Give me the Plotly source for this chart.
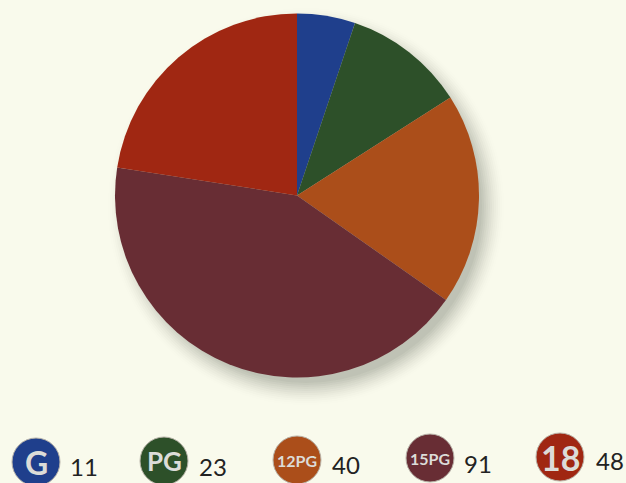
import plotly.graph_objects as go

categories = ["G", "PG", "12PG", "15PG", "18"]
values = [11, 23, 40, 91, 48]
colors = ["#1f3f8c", "#2d5029", "#ab4e1a", "#682d34", "#a02712"]

W, H = 626, 483
BG = "#f9faec"
# Legend layout, in pixels of the picture
badge_cx = [36, 164, 297, 430, 560]
badge_cy = [462, 461, 460, 458, 457]
label_cx = [84, 213, 346, 478, 610]
label_cy = [466, 466, 464, 463, 460]
badge_font = [32, 26, 16, 16, 34]
badge_text = ["<b>G</b>", "<b>PG</b>", "<b>12PG</b>", "<b>15PG</b>", "<b>18</b>"]


def px(x):
    return x / W


def py(y):
    return 1 - y / H


shapes = []
# soft drop shadow of the pie: stacked translucent discs
for grow in range(16, -8, -2):
    op = 0.008 + 0.002 * (16 - grow)
    shapes.append(dict(type="circle", xref="paper", yref="paper", layer="below",
                       x0=px(115 + 9 - grow), x1=px(479 + 9 + grow),
                       y0=py(378 + 11 + grow), y1=py(13 + 11 - grow),
                       fillcolor=f"rgba(70,75,70,{op:.4f})", line=dict(width=0)))

annotations = []
for t, v, col, bx, by, lx, ly, fs in zip(badge_text, values, colors, badge_cx, badge_cy,
                                         label_cx, label_cy, badge_font):
    shapes.append(dict(type="circle", xref="paper", yref="paper",
                       x0=px(bx - 24), x1=px(bx + 24), y0=py(by + 24), y1=py(by - 24),
                       fillcolor=col, line=dict(width=1, color="#b9b4aa")))
    annotations.append(dict(x=px(bx), y=py(by), xref="paper", yref="paper", text=t, showarrow=False,
                            xanchor="center", yanchor="middle",
                            font=dict(family="Lato", size=fs, color="#dcdcd8")))
    annotations.append(dict(x=px(lx), y=py(ly), xref="paper", yref="paper", text=str(v), showarrow=False,
                            xanchor="center", yanchor="middle",
                            font=dict(family="Lato", size=24, color="#222222")))

fig = go.Figure()
fig.add_trace(go.Pie(labels=categories, values=values, sort=False, direction="clockwise",
                     rotation=0, textinfo="none", hoverinfo="label+value", showlegend=False,
                     marker=dict(colors=colors, line=dict(width=0)),
                     domain=dict(x=[px(115), px(479)], y=[py(378), py(13)])))

fig.update_layout(width=W, height=H, margin=dict(l=0, r=0, t=0, b=0),
                  paper_bgcolor=BG, plot_bgcolor=BG, shapes=shapes, annotations=annotations)
fig.write_html("out.html", config=dict(displayModeBar=False),
               post_script="document.body.style.margin='0';document.body.style.background='" + BG + "';")
